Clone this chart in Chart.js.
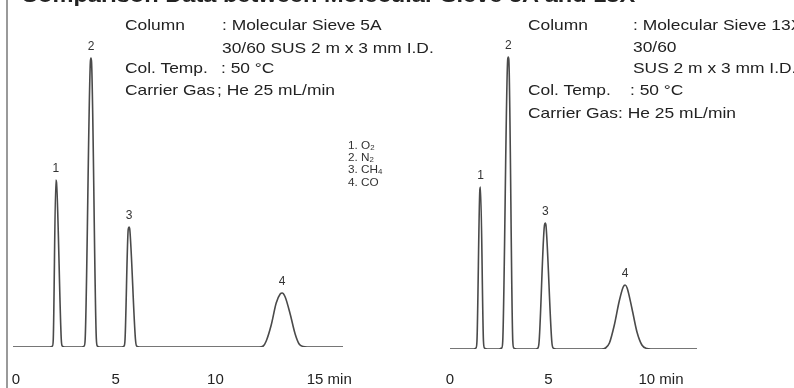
<!DOCTYPE html>
<html>
<head>
<meta charset="utf-8">
<script src="https://cdn.jsdelivr.net/npm/chart.js@4.4.1/dist/chart.umd.min.js"></script>
<style>
  body { margin: 0; background: #fff; }
  #wrap { position: relative; width: 794px; height: 388px; overflow: hidden; background: #fff; }
  canvas { position: absolute; top: 0; }
  .t { position: absolute; white-space: nowrap; font-family: "Liberation Sans", Arial, sans-serif; color: #222;
       font-size: 15px; line-height: 18px; transform: scaleX(1.16); transform-origin: left center; }
  .lg { position: absolute; white-space: nowrap; font-family: "Liberation Sans", Arial, sans-serif; color: #333;
        font-size: 10.5px; line-height: 12px; transform: scaleX(1.12); transform-origin: left center; }
  .lg sub { font-size: 7px; vertical-align: -1px; }
  .title { position: absolute; left: 21px; top: -15px; white-space: nowrap; font-family: "Liberation Sans", Arial, sans-serif;
           font-weight: bold; font-size: 20px; line-height: 20px; color: #222; transform: scaleX(1.18); transform-origin: left center; }
</style>
</head>
<body>
<div id="wrap">
  <canvas id="left" width="397" height="388" style="left:0"></canvas>
  <canvas id="right" width="397" height="388" style="left:397px"></canvas>

  <div class="title">Comparison Data between Molecular Sieve 5A and 13X</div>

  <div class="t" style="left:125px;top:16px">Column</div>
  <div class="t" style="left:222px;top:16px">: Molecular Sieve 5A</div>
  <div class="t" style="left:222px;top:39px">30/60 SUS 2 m x 3 mm I.D.</div>
  <div class="t" style="left:125px;top:59px">Col. Temp.</div>
  <div class="t" style="left:221px;top:59px">: 50 °C</div>
  <div class="t" style="left:125px;top:81px">Carrier Gas</div>
  <div class="t" style="left:217px;top:81px">; He 25 mL/min</div>

  <div class="t" style="left:528px;top:16px">Column</div>
  <div class="t" style="left:633px;top:16px">: Molecular Sieve 13X</div>
  <div class="t" style="left:633px;top:38px">30/60</div>
  <div class="t" style="left:633px;top:59px">SUS 2 m x 3 mm I.D.</div>
  <div class="t" style="left:528px;top:81px">Col. Temp.</div>
  <div class="t" style="left:630px;top:81px">: 50 °C</div>
  <div class="t" style="left:528px;top:104px">Carrier Gas</div>
  <div class="t" style="left:618px;top:104px">: He 25 mL/min</div>

  <div class="lg" style="left:348px;top:139px">1. O<sub>2</sub></div>
  <div class="lg" style="left:348px;top:151px">2. N<sub>2</sub></div>
  <div class="lg" style="left:348px;top:163px">3. CH<sub>4</sub></div>
  <div class="lg" style="left:348px;top:176px">4. CO</div>
</div>

<script>
// Molecular Sieve 5A chromatogram (time in min, detector response)
var leftTime = [-0.15,
  1.70, 1.83, 1.87, 2.00, 2.03, 2.27, 2.32, 2.45,
  3.30, 3.42, 3.47, 3.73, 3.76, 3.79, 4.03, 4.08, 4.20,
  5.30, 5.42, 5.47, 5.63, 5.67, 5.71, 5.99, 6.05, 6.20,
  12.20, 12.40, 12.55, 12.80, 13.05, 13.25, 13.35, 13.50, 13.75, 14.00, 14.20, 14.40, 14.60, 16.40];
var leftSignal = [0,
  0, 1, 8, 167, 165, 8, 1, 0,
  0, 1, 8, 285, 289, 285, 8, 1, 0,
  0, 1, 8, 118, 120, 117, 8, 1, 0,
  0, 1, 6, 22, 44, 53, 54, 50, 33, 13, 3, 0.5, 0, 0];
var leftPeakTime = [2.00, 3.76, 5.67, 13.35];

// Molecular Sieve 13X chromatogram
var rightTime = [0,
  1.20, 1.32, 1.37, 1.52, 1.55, 1.70, 1.75, 1.90,
  2.50, 2.63, 2.68, 2.93, 2.96, 2.99, 3.19, 3.24, 3.40,
  4.35, 4.47, 4.53, 4.80, 4.84, 4.88, 5.17, 5.24, 5.40,
  7.70, 7.90, 8.10, 8.35, 8.60, 8.80, 8.90, 9.00, 9.25, 9.50, 9.75, 10.00, 10.20, 12.55];
var rightSignal = [0,
  0, 1, 8, 160, 162, 8, 1, 0,
  0, 1, 8, 289, 292, 289, 8, 1, 0,
  0, 1, 8, 124, 126, 123, 8, 1, 0,
  0, 1, 6, 24, 48, 62, 64, 61, 40, 17, 4, 0.5, 0, 0];
var rightPeakTime = [1.55, 2.96, 4.84, 8.90];

var peakNo = ["1", "2", "3", "4"];
var leftTicks = [0, 5, 10, 15];
var rightTicks = [0, 5, 10];
var timeUnit = "min";

var tickFont = { family: "'Liberation Sans', Arial, sans-serif", size: 15 };

// number above each peak + unit after last tick
var peakLabels = {
  id: "peakLabels",
  afterDatasetsDraw: function(chart, args, opts) {
    var ctx = chart.ctx;
    var xs = chart.scales.x, ys = chart.scales.y;
    var times = chart.data.datasets[0].data;
    ctx.save();
    ctx.fillStyle = "#333";
    ctx.font = "12px 'Liberation Sans', Arial, sans-serif";
    ctx.textAlign = "center";
    ctx.textBaseline = "middle";
    opts.peaks.forEach(function(t, i) {
      var pt = times.find(function(p) { return p.x === t; });
      ctx.fillText(peakNo[i], xs.getPixelForValue(t), ys.getPixelForValue(pt.y) - opts.gap);
    });
    // unit after the last tick label
    var last = opts.ticks[opts.ticks.length - 1];
    ctx.font = tickFont.size + "px " + tickFont.family;
    ctx.fillStyle = "#222";
    ctx.textAlign = "left";
    var w = ctx.measureText(String(last)).width;
    var y = xs.top + xs.options.ticks.padding + tickFont.size * 1.2 / 2;
    ctx.fillText(" " + timeUnit, xs.getPixelForValue(last) + w / 2, y);
    if (opts.border) {
      ctx.strokeStyle = "#9a9a9a";
      ctx.lineWidth = 2;
      ctx.beginPath();
      ctx.moveTo(7, 0);
      ctx.lineTo(7, chart.height);
      ctx.stroke();
    }
    ctx.restore();
  }
};

function makeChart(id, time, signal, xMin, xMax, ticks, peaks, pad, axisH, tickPad, border) {
  var pts = time.map(function(t, i) { return { x: t, y: signal[i] }; });
  return new Chart(document.getElementById(id), {
    type: "line",
    data: {
      datasets: [{
        data: pts,
        borderColor: "#4a4a4a",
        borderWidth: 1.6,
        pointRadius: 0,
        cubicInterpolationMode: "monotone",
        fill: false
      }]
    },
    options: {
      responsive: false,
      animation: false,
      devicePixelRatio: 1,
      layout: { padding: pad },
      plugins: {
        legend: { display: false },
        tooltip: { enabled: false },
        peakLabels: { peaks: peaks, ticks: ticks, gap: 11, border: border }
      },
      scales: {
        x: {
          type: "linear",
          min: xMin,
          max: xMax,
          afterBuildTicks: function(s) { s.ticks = ticks.map(function(v) { return { value: v }; }); },
          afterFit: function(s) { s.height = axisH; s.paddingLeft = 0; s.paddingRight = 0; },
          grid: { display: false, drawTicks: false },
          border: { display: false },
          ticks: { font: tickFont, color: "#222", padding: tickPad, maxRotation: 0, autoSkip: false,
                   callback: function(v) { return String(v); } }
        },
        y: { display: false, min: 0, max: 300 }
      }
    },
    plugins: [peakLabels]
  });
}

makeChart("left", leftTime, leftSignal, -0.15, 16.40, leftTicks, leftPeakTime,
  { left: 13, right: 54, top: 47, bottom: 0 }, 41, 24, true);
makeChart("right", rightTime, rightSignal, 0, 12.55, rightTicks, rightPeakTime,
  { left: 53, right: 97, top: 49, bottom: 0 }, 39, 22, false);
</script>
</body>
</html>
